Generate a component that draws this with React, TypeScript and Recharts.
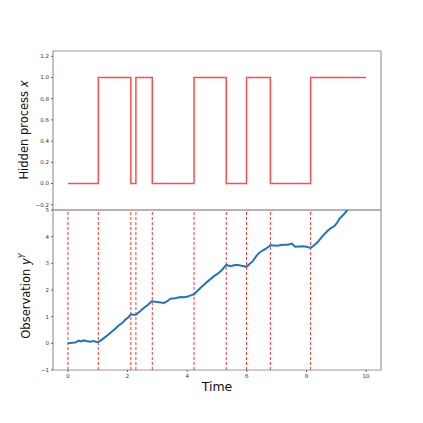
import React from 'react';
import { LineChart, Line, XAxis, YAxis, ReferenceLine, ReferenceArea } from 'recharts';

// hidden state: switch times and the state held after each
const STATE_T = [0, 1.02, 2.11, 2.28, 2.83, 4.23, 5.31, 5.99, 6.79, 8.14, 10];
const STATE_X = [0, 1, 0, 1, 0, 1, 0, 1, 0, 1, 1];
const SWITCHES = [0, 1.02, 2.11, 2.28, 2.83, 4.23, 5.31, 5.99, 6.79, 8.14];

const OBS_T = [
  0, 0.15, 0.25, 0.36, 0.45, 0.53, 0.65, 0.75, 0.86, 0.95, 1.02, 1.14, 1.28, 1.42, 1.56, 1.7, 1.82, 1.93,
  2.02, 2.11, 2.2, 2.28, 2.42, 2.55, 2.68, 2.81, 2.93, 3.05, 3.22, 3.33, 3.44, 3.6, 3.78, 3.9, 4.0, 4.12,
  4.23, 4.4, 4.57, 4.74, 4.9, 5.05, 5.18, 5.31, 5.46, 5.57, 5.67, 5.82, 5.99, 6.1, 6.2, 6.31, 6.42, 6.53,
  6.64, 6.79, 6.92, 7.04, 7.15, 7.26, 7.38, 7.51, 7.62, 7.75, 7.88, 8.0, 8.14, 8.26, 8.38, 8.54, 8.7,
  8.82, 8.94, 9.03, 9.11, 9.24, 9.37, 9.7, 10,
];
const OBS_Y = [
  0, 0.02, 0.03, 0.1, 0.07, 0.11, 0.08, 0.06, 0.09, 0.05, 0.05, 0.14, 0.26, 0.39, 0.52, 0.67, 0.76, 0.89,
  0.97, 1.09, 1.07, 1.07, 1.2, 1.33, 1.44, 1.58, 1.56, 1.54, 1.51, 1.58, 1.67, 1.69, 1.74, 1.73, 1.75, 1.8,
  1.84, 2.03, 2.21, 2.37, 2.52, 2.63, 2.77, 2.94, 2.89, 2.93, 2.95, 2.91, 2.87, 2.98, 3.08, 3.26, 3.4, 3.48,
  3.55, 3.68, 3.67, 3.66, 3.69, 3.7, 3.7, 3.74, 3.62, 3.63, 3.64, 3.62, 3.58, 3.68, 3.8, 4.02, 4.21, 4.32,
  4.4, 4.52, 4.68, 4.82, 5.0, 5.4, 5.8,
];

const X_TICKS = [0, 2, 4, 6, 8, 10];
const TOP_TICKS = [-0.2, 0, 0.2, 0.4, 0.6, 0.8, 1.0, 1.2];
const BOTTOM_TICKS = [-1, 0, 1, 2, 3, 4, 5];

const stateData = STATE_T.map((t, i) => ({ t, x: STATE_X[i] }));
const obsData = OBS_T.map((t, i) => ({ t, y: OBS_Y[i] }));

const FONT = 'DejaVu Sans, sans-serif';
const tickStyle = { fontSize: 5.5, fill: '#333', fontFamily: FONT };
const minus = (s: string) => s.replace('-', '\u2212');

export default function App() {
  return (
    <div style={{ position: 'fixed', left: 0, top: 0, width: 423, height: 423, background: '#fff' }}>
      <div style={{ position: 'absolute', left: 0, top: 0 }}>
        <LineChart width={423} height={423} data={stateData} margin={{ top: 51, right: 42, bottom: 213, left: 23 }}>
          <XAxis dataKey="t" type="number" domain={[-0.5, 10.5]} hide />
          <YAxis
            type="number"
            domain={[-0.25, 1.25]}
            ticks={TOP_TICKS}
            width={30}
            tick={tickStyle}
            tickSize={2}
            tickLine={{ stroke: '#666' }}
            axisLine={false}
            tickFormatter={(v: number) => minus(v.toFixed(1))}
          />
          <ReferenceArea x1={-0.5} x2={10.5} y1={-0.25} y2={1.25} fill="none" stroke="#999" strokeWidth={1.2} />
          <Line
            dataKey="x"
            type="stepAfter"
            stroke="#ff4d4d"
            strokeWidth={1.5}
            dot={false}
            isAnimationActive={false}
          />
        </LineChart>
      </div>
      <div style={{ position: 'absolute', left: 0, top: 0 }}>
        <LineChart width={423} height={423} data={obsData} margin={{ top: 210, right: 42, bottom: 23, left: 23 }}>
          <XAxis
            dataKey="t"
            type="number"
            domain={[-0.5, 10.5]}
            ticks={X_TICKS}
            height={30}
            tick={tickStyle}
            tickSize={2}
            tickLine={{ stroke: '#666' }}
            axisLine={false}
          />
          <YAxis
            type="number"
            domain={[-1, 5]}
            allowDataOverflow
            ticks={BOTTOM_TICKS}
            width={30}
            tick={tickStyle}
            tickSize={2}
            tickLine={{ stroke: '#666' }}
            axisLine={false}
            tickFormatter={(v: number) => minus(String(v))}
          />
          <ReferenceArea x1={-0.5} x2={10.5} y1={-1} y2={5} fill="none" stroke="#999" strokeWidth={1.2} />
          {SWITCHES.map((s) => (
            <ReferenceLine key={s} x={s} stroke="#ff3333" strokeDasharray="3 2" strokeWidth={1} />
          ))}
          <Line
            dataKey="y"
            type="linear"
            stroke="#1f77b4"
            strokeWidth={2}
            dot={false}
            isAnimationActive={false}
          />
        </LineChart>
      </div>
      <svg width={423} height={423} style={{ position: 'absolute', left: 0, top: 0, pointerEvents: 'none' }}>
        <text x={217} y={391} textAnchor="middle" fontSize={12.5} fontFamily={FONT} fill="#111">
          Time
        </text>
        <text
          transform="translate(28,130) rotate(-90)"
          textAnchor="middle"
          fontSize={11.5}
          fontFamily={FONT}
          fill="#111"
        >
          Hidden process <tspan fontStyle="italic">x</tspan>
        </text>
        <text
          transform="translate(30,296) rotate(-90)"
          textAnchor="middle"
          fontSize={11.5}
          fontFamily={FONT}
          fill="#111"
        >
          Observation <tspan fontStyle="italic">y</tspan>
          <tspan fontStyle="italic" fontSize={8} dy={-5}>Y</tspan>
        </text>
      </svg>
    </div>
  );
}
